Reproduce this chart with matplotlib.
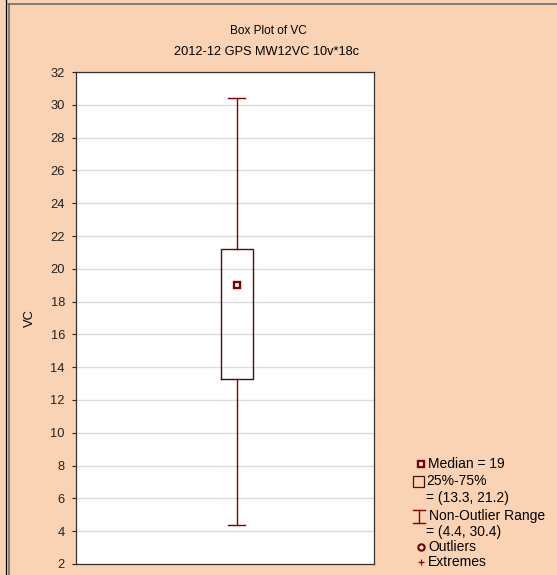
import matplotlib
matplotlib.use('Agg')
import matplotlib.pyplot as plt
from matplotlib.lines import Line2D

# Box plot summary for VC
variable = 'VC'
median = 19
quartiles = [13.3, 21.2]
whisker_range = [4.4, 30.4]
y_ticks = [2, 4, 6, 8, 10, 12, 14, 16, 18, 20, 22, 24, 26, 28, 30, 32]

plt.rcParams['font.family'] = ['Liberation Sans', 'DejaVu Sans']
plt.rcParams['font.size'] = 8.5

peach = '#fad3b4'
dark_red = '#800000'
W, H = 557, 575

fig = plt.figure(figsize=(W / 100, H / 100), dpi=100)
fig.patch.set_facecolor(peach)

ax = fig.add_axes([76 / W, 11 / H, 298 / W, 492 / H])
ax.set_facecolor('white')

stats = [{
    'med': median,
    'q1': quartiles[0],
    'q3': quartiles[1],
    'whislo': whisker_range[0],
    'whishi': whisker_range[1],
    'fliers': [],
}]
ax.bxp(stats, positions=[0.54], widths=0.107, capwidths=0.057,
       boxprops=dict(color='#4a1010', linewidth=1.0),
       whiskerprops=dict(color=dark_red, linewidth=1.0),
       capprops=dict(color=dark_red, linewidth=1.0),
       medianprops=dict(visible=False),
       showfliers=False, manage_ticks=False)

# median drawn as a square point
ax.plot([0.54], [median], marker='s', markersize=5, markerfacecolor='white',
        markeredgecolor=dark_red, markeredgewidth=1.7, linestyle='none', zorder=5)

ax.set_xlim(0, 1)
ax.set_ylim(2, 32)
ax.set_yticks(y_ticks)
ax.set_xticks([])
ax.yaxis.grid(True, color='#dcdcdc', linewidth=1.0)
ax.set_axisbelow(True)
ax.tick_params(axis='y', direction='out', length=3, width=0.8, pad=5,
               colors='#222222', labelsize=9.3)
for side in ['left', 'bottom', 'top', 'right']:
    ax.spines[side].set_color('#333333')
    ax.spines[side].set_linewidth(0.9)

# titles and axis label
fig.text(268 / W, 1 - 31 / H, 'Box Plot of VC', ha='center', va='center')
fig.text(267 / W, 1 - 52 / H, '2012-12 GPS MW12VC 10v*18c', ha='center', va='center',
         fontsize=9.2)
fig.text(30 / W, 1 - 318 / H, variable, rotation=90, ha='center', va='center',
         fontsize=9.3)

# legend entries on the right
def fx(px):
    return px / W

def fy(py):
    return 1 - py / H

lg = 10

fig.add_artist(Line2D([fx(421)], [fy(464)], marker='s', markersize=4.8,
                      markerfacecolor='white', markeredgecolor=dark_red,
                      markeredgewidth=1.7))
fig.text(fx(428), fy(464), 'Median = %g' % median, va='center', fontsize=lg)

fig.add_artist(plt.Rectangle((fx(413), fy(487)), 11 / W, 11 / H, fill=False,
                             edgecolor='#4a1010', linewidth=0.9))
fig.text(fx(426), fy(481), '25%-75%', va='center', fontsize=lg)
fig.text(fx(426), fy(498), '= (%g, %g)' % (quartiles[0], quartiles[1]), va='center',
         fontsize=lg)

fig.add_artist(Line2D([fx(419), fx(419)], [fy(510), fy(523)], color=dark_red, linewidth=1.0))
fig.add_artist(Line2D([fx(413), fx(425)], [fy(510), fy(510)], color=dark_red, linewidth=1.0))
fig.add_artist(Line2D([fx(413), fx(425)], [fy(523), fy(523)], color=dark_red, linewidth=1.0))
fig.text(fx(429), fy(516), 'Non-Outlier Range', va='center', fontsize=lg)
fig.text(fx(426), fy(532), '= (%g, %g)' % (whisker_range[0], whisker_range[1]),
         va='center', fontsize=lg)

fig.add_artist(Line2D([fx(421)], [fy(547)], marker='o', markersize=4.5,
                      markerfacecolor='white', markeredgecolor=dark_red,
                      markeredgewidth=1.6))
fig.text(fx(428), fy(547), 'Outliers', va='center', fontsize=lg)
fig.add_artist(Line2D([fx(421)], [fy(562)], marker='+', markersize=5,
                      color=dark_red, markeredgewidth=0.9))
fig.text(fx(428), fy(562), 'Extremes', va='center', fontsize=lg)

# panel frame lines along the left and top
fig.add_artist(Line2D([fx(6), fx(6)], [0, 1], color='black', linewidth=0.9))
fig.add_artist(Line2D([fx(8.5), fx(8.5)], [0, fy(4)], color='#6e6e6e', linewidth=1.2))
fig.add_artist(Line2D([fx(8), 1], [fy(4), fy(4)], color='#6e6e6e', linewidth=1.2))

fig.savefig('out.png', dpi=100, facecolor=peach)
